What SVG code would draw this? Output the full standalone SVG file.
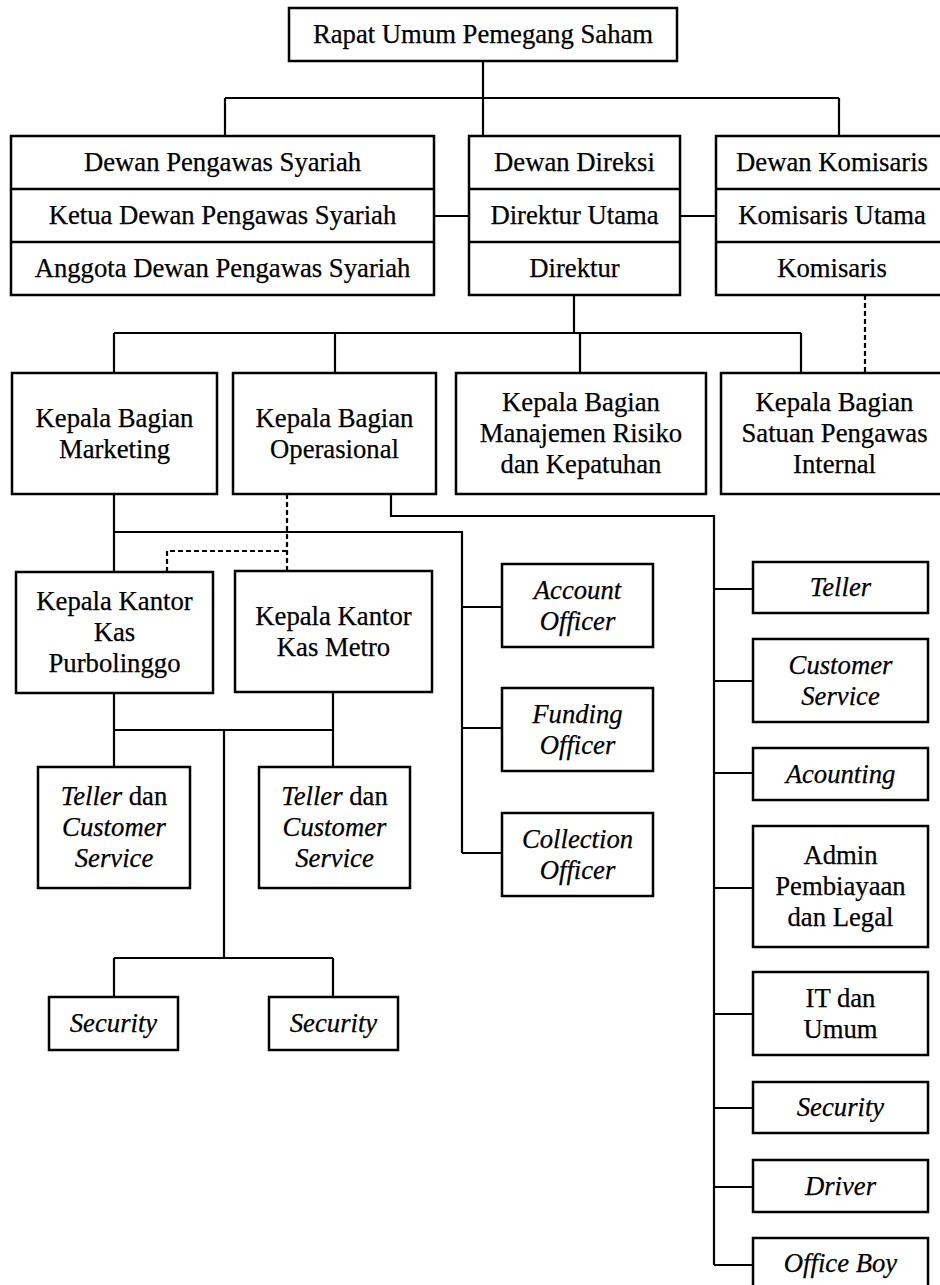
<svg xmlns="http://www.w3.org/2000/svg" width="940" height="1285" viewBox="0 0 940 1285" font-family="'Liberation Serif', 'Times New Roman', serif">
<style>
rect{fill:#fff;stroke:#000;stroke-width:2.5}
.sep{stroke:#000;stroke-width:2.5}
text{font-family:'Liberation Serif','Times New Roman',serif;font-size:26.7px;fill:#000;text-anchor:middle;stroke:#000;stroke-width:0.25}
.i{font-style:italic}
#connectors path{fill:none;stroke:#000;stroke-width:2.2}
#connectors .d{stroke-dasharray:5 3}
</style>
<rect x="0" y="0" width="940" height="1285" style="fill:#fff;stroke:none"/>
<g id="connectors">
<path d="M483 61V98M225 98H839M225 98V136M483 98V136M839 98V136"/>
<path d="M434 216H469M680 216H716"/>
<path d="M574 295V333M114 333H801M114 333V373M335 333V373M580 333V373M801 333V373"/>
<path class="d" d="M865 295V373"/>
<path d="M114 494V572M114 532H462V853M462 607H502M462 728H502M462 853H502"/>
<path class="d" d="M287 494V571M287 551H167V572"/>
<path d="M391 494V516H714V1265M714 589H753M714 681H753M714 773H753M714 888H753M714 1014H753M714 1108H753M714 1187H753M714 1265H753"/>
<path d="M114 693V767M333 692V767M114 730H333M224 730V958M114 958H333M114 958V997M333 958V997"/>
</g>
<g id="rups"><rect x="289" y="8" width="388" height="53"/><text x="483" y="43">Rapat Umum Pemegang Saham</text></g>
<g id="dps"><rect x="11" y="136" width="423" height="159"/><line class="sep" x1="11" y1="189" x2="434" y2="189"/><line class="sep" x1="11" y1="242" x2="434" y2="242"/>
<text x="222.5" y="171">Dewan Pengawas Syariah</text><text x="222.5" y="224">Ketua Dewan Pengawas Syariah</text><text x="222.5" y="277">Anggota Dewan Pengawas Syariah</text></g>
<g id="direksi"><rect x="469" y="136" width="211" height="159"/><line class="sep" x1="469" y1="189" x2="680" y2="189"/><line class="sep" x1="469" y1="242" x2="680" y2="242"/>
<text x="574.5" y="171">Dewan Direksi</text><text x="574.5" y="224">Direktur Utama</text><text x="574.5" y="277">Direktur</text></g>
<g id="komisaris"><rect x="716" y="136" width="232" height="159"/><line class="sep" x1="716" y1="189" x2="948" y2="189"/><line class="sep" x1="716" y1="242" x2="948" y2="242"/>
<text x="832" y="171">Dewan Komisaris</text><text x="832" y="224">Komisaris Utama</text><text x="832" y="277">Komisaris</text></g>
<g id="marketing"><rect x="12" y="373" width="205" height="121"/><text x="114.5" y="426.5">Kepala Bagian</text><text x="114.5" y="457.5">Marketing</text></g>
<g id="operasional"><rect x="233" y="373" width="203" height="121"/><text x="334.5" y="426.5">Kepala Bagian</text><text x="334.5" y="457.5">Operasional</text></g>
<g id="risiko"><rect x="456" y="373" width="250" height="121"/><text x="581" y="411">Kepala Bagian</text><text x="581" y="442">Manajemen Risiko</text><text x="581" y="473">dan Kepatuhan</text></g>
<g id="spi"><rect x="721" y="373" width="227" height="121"/><text x="834.5" y="411">Kepala Bagian</text><text x="834.5" y="442">Satuan Pengawas</text><text x="834.5" y="473">Internal</text></g>
<g id="purbolinggo"><rect x="16" y="572" width="197" height="121"/><text x="114.5" y="610">Kepala Kantor</text><text x="114.5" y="641">Kas</text><text x="114.5" y="672">Purbolinggo</text></g>
<g id="metro"><rect x="235" y="571" width="197" height="121"/><text x="333.5" y="624.5">Kepala Kantor</text><text x="333.5" y="655.5">Kas Metro</text></g>
<g id="tcs1"><rect x="38" y="767" width="152" height="121"/><text x="114" y="805"><tspan class="i">Teller</tspan> dan</text><text class="i" x="114" y="836">Customer</text><text class="i" x="114" y="867">Service</text></g>
<g id="tcs2"><rect x="259" y="767" width="151" height="121"/><text x="334.5" y="805"><tspan class="i">Teller</tspan> dan</text><text class="i" x="334.5" y="836">Customer</text><text class="i" x="334.5" y="867">Service</text></g>
<g id="sec1"><rect x="49" y="997" width="129" height="53"/><text class="i" x="113.5" y="1032">Security</text></g>
<g id="sec2"><rect x="269" y="997" width="129" height="53"/><text class="i" x="333.5" y="1032">Security</text></g>
<g id="ao"><rect x="502" y="564" width="151" height="83"/><text class="i" x="577.5" y="598.5">Account</text><text class="i" x="577.5" y="629.5">Officer</text></g>
<g id="fo"><rect x="502" y="688" width="151" height="83"/><text class="i" x="577.5" y="722.5">Funding</text><text class="i" x="577.5" y="753.5">Officer</text></g>
<g id="co"><rect x="502" y="813" width="151" height="83"/><text class="i" x="577.5" y="847.5">Collection</text><text class="i" x="577.5" y="878.5">Officer</text></g>
<g id="teller"><rect x="753" y="562" width="175" height="51"/><text class="i" x="840.5" y="596">Teller</text></g>
<g id="cs"><rect x="753" y="639" width="175" height="83"/><text class="i" x="840.5" y="673.5">Customer</text><text class="i" x="840.5" y="704.5">Service</text></g>
<g id="acounting"><rect x="753" y="748" width="175" height="52"/><text class="i" x="840.5" y="782.5">Acounting</text></g>
<g id="admin"><rect x="753" y="826" width="175" height="121"/><text x="840.5" y="864">Admin</text><text x="840.5" y="895">Pembiayaan</text><text x="840.5" y="926">dan Legal</text></g>
<g id="it"><rect x="753" y="972" width="175" height="83"/><text x="840.5" y="1006.5">IT dan</text><text x="840.5" y="1037.5">Umum</text></g>
<g id="security"><rect x="753" y="1082" width="175" height="51"/><text class="i" x="840.5" y="1116">Security</text></g>
<g id="driver"><rect x="753" y="1160" width="175" height="52"/><text class="i" x="840.5" y="1194.5">Driver</text></g>
<g id="officeboy"><rect x="753" y="1238" width="175" height="60"/><text class="i" x="840.5" y="1272">Office Boy</text></g>
</svg>
